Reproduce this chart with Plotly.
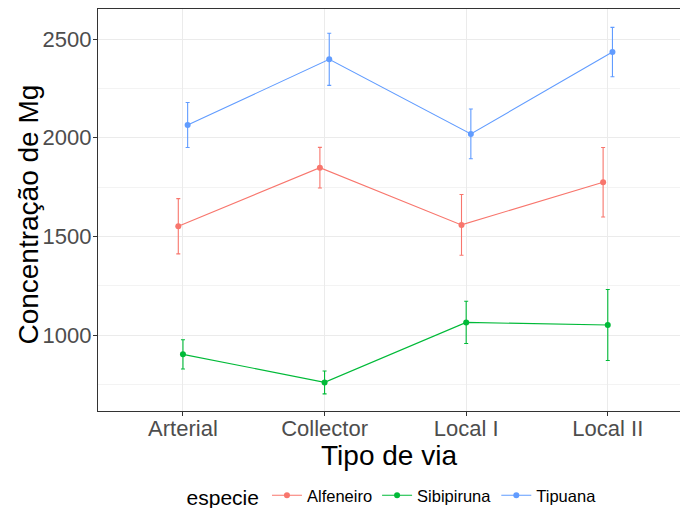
import plotly.graph_objects as go

# categories and series
tipo_via = ["Arterial", "Collector", "Local I", "Local II"]
especies = ["Alfeneiro", "Sibipiruna", "Tipuana"]
cores = ["#F8766D", "#00BA38", "#619CFF"]

media_alfeneiro = [1551, 1848, 1558, 1774]
erro_alfeneiro = [140, 103, 154, 176]

media_sibipiruna = [902, 760, 1064, 1051]
erro_sibipiruna = [74, 58, 107, 180]

media_tipuana = [2064, 2397, 2019, 2434]
erro_tipuana = [114, 132, 126, 125]

medias = [media_alfeneiro, media_sibipiruna, media_tipuana]
erros = [erro_alfeneiro, erro_sibipiruna, erro_tipuana]

# position_dodge(0.1) equivalent
dodge = [-0.033, 0.0, 0.033]

FONT = "Liberation Sans, Arial, sans-serif"

fig = go.Figure()
for nome, cor, med, err, dx in zip(especies, cores, medias, erros, dodge):
    xs = [i + 1 + dx for i in range(len(tipo_via))]
    fig.add_trace(go.Scatter(
        x=xs, y=med, name=nome, mode="lines+markers",
        line=dict(color=cor, width=1.1),
        marker=dict(color=cor, size=6),
        error_y=dict(type="data", array=err, visible=True,
                     color=cor, thickness=1.1, width=2),
    ))

fig.update_layout(
    width=680, height=508,
    margin=dict(l=98, r=0, t=9, b=97, autoexpand=False),
    paper_bgcolor="white", plot_bgcolor="white",
    font=dict(family=FONT, color="black"),
    legend=dict(
        orientation="h", x=0.507, xanchor="center", y=-0.214, yanchor="middle",
        title=dict(text="especie", font=dict(size=21)),
        font=dict(size=16.5), itemwidth=30,
    ),
    showlegend=True,
)

fig.update_xaxes(
    range=[0.4, 4.51],
    tickvals=[1, 2, 3, 4], ticktext=tipo_via,
    tickfont=dict(size=22, color="#4D4D4D"),
    ticks="outside", ticklen=4, tickcolor="#333333",
    ticklabelstandoff=-7,
    showgrid=True, gridcolor="#EBEBEB", gridwidth=1,
    zeroline=False, automargin=False,
    showline=True, linecolor="#333333", linewidth=1.2, mirror=True,
    title=dict(text="Tipo de via", font=dict(size=28), standoff=0),
)

fig.update_yaxes(
    range=[615, 2652],
    tickvals=[1000, 1500, 2000, 2500],
    tickfont=dict(size=22, color="#4D4D4D"),
    ticks="outside", ticklen=4, tickcolor="#333333",
    ticklabelstandoff=-3,
    showgrid=True, gridcolor="#EBEBEB", gridwidth=1,
    minor=dict(tickvals=[750, 1250, 1750, 2250], showgrid=True,
               gridcolor="#F3F3F3", gridwidth=1, ticks=""),
    zeroline=False, automargin=False, mirror=False,
    showline=True, linecolor="#333333", linewidth=1.2,
)

# y title as an annotation for exact placement
fig.add_annotation(
    text="Concentração de Mg", textangle=-90,
    xref="paper", yref="paper", x=-0.119, y=0.488,
    xanchor="center", yanchor="middle", showarrow=False,
    font=dict(size=28, color="black"),
)

# drop the default page margin so the figure fills the window exactly
fig.write_html("out.html", config={"displayModeBar": False},
               post_script="document.body.style.margin='0';document.body.style.overflow='hidden';")
